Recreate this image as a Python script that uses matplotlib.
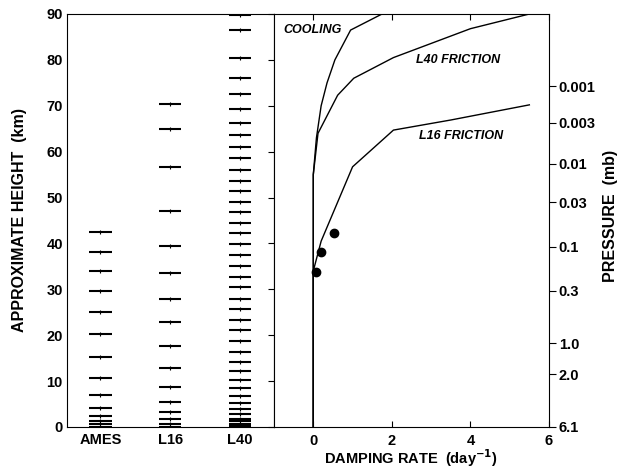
import numpy as np
import matplotlib.pyplot as plt

plt.rcParams['font.family'] = ['Liberation Sans', 'DejaVu Sans']
plt.rcParams['font.weight'] = 'bold'
plt.rcParams['font.size'] = 10.5

# level heights (km) for each model grid
models = ['AMES', 'L16', 'L40']
ames_levels = [42.4, 38.2, 34.0, 29.6, 25.0, 20.2, 15.2, 10.6, 6.9, 4.2, 2.4, 1.2, 0.6, 0.1]
l16_levels = [70.4, 64.9, 56.6, 47.0, 39.4, 33.5, 28.0, 22.9, 17.7, 12.9, 8.7, 5.4,
              3.3, 1.7, 0.65, 0.1]
l40_levels = [89.8, 86.5, 80.5, 76.0, 72.5, 69.3, 66.3, 63.6, 61.1, 58.6, 56.1, 53.7,
              51.4, 49.1, 46.8, 44.4, 42.2, 39.8, 37.5, 35.1, 32.7, 30.4, 28.0, 25.7,
              23.4, 21.1, 18.7, 16.4, 14.2, 12.1, 10.2, 8.4, 6.8, 5.3, 3.9, 2.8, 1.8,
              1.2, 0.6, 0.15]

# damping rate profiles (day^-1 vs km)
cool_rate = [0.0, 0.0, 0.08, 0.2, 0.35, 0.55, 0.95, 1.75]
cool_z = [0.0, 55.0, 63.0, 70.0, 75.0, 80.0, 86.5, 90.0]
l40_rate = [0.0, 0.0, 0.12, 0.62, 1.03, 2.04, 4.0, 5.5]
l40_z = [0.0, 55.0, 64.0, 72.3, 76.0, 80.5, 86.8, 90.0]
l16_rate = [0.0, 0.0, 0.2, 1.0, 2.04, 3.5, 5.5]
l16_z = [0.0, 34.0, 40.5, 56.7, 64.7, 66.9, 70.2]
obs_rate = [0.08, 0.2, 0.52]
obs_z = [33.8, 38.1, 42.3]

# pressure labels on the right axis (mb) and their heights (km)
p_labels = ['0.001', '0.003', '0.01', '0.03', '0.1', '0.3', '1.0', '2.0', '6.1']
p_heights = [74.3, 66.3, 57.4, 49.0, 39.3, 29.7, 18.2, 11.5, 0.0]

W, H = 622, 470
fig = plt.figure(figsize=(W / 100, H / 100), dpi=100)
bot = 1 - 427 / H
hgt = (427 - 14) / H
ax1 = fig.add_axes([67 / W, bot, (274 - 67) / W, hgt])
ax2 = fig.add_axes([274 / W, bot, (549 - 274) / W, hgt])

# left panel: vertical levels
for i, lev in enumerate([ames_levels, l16_levels, l40_levels]):
    x = i + 1
    ax1.hlines(lev, x - 0.16, x + 0.16, color='black', lw=1.5)
    ax1.plot([x] * len(lev), lev, '|', color='black', ms=2.5, mew=0.8)
ax1.set_xlim(0.52, 3.49)
ax1.set_ylim(0, 90)
ax1.set_xticks([1, 2, 3])
ax1.set_xticklabels(models, fontweight='bold')
ax1.set_yticks(np.arange(0, 91, 10))
ax1.tick_params(axis='x', length=0, pad=4)
ax1.tick_params(axis='y', left=False, right=True, direction='in', length=4, pad=3)

# right panel: damping rates
ax2.plot(cool_rate, cool_z, color='black', lw=1.0)
ax2.plot(l40_rate, l40_z, color='black', lw=1.0)
ax2.plot(l16_rate, l16_z, color='black', lw=1.0)
ax2.plot(obs_rate, obs_z, 'o', color='black', ms=6)
ax2.set_xlim(-1, 6)
ax2.set_ylim(0, 90)
ax2.set_xticks([0, 2, 4, 6])
ax2.tick_params(axis='x', top=True, direction='in', length=4, pad=5)
ax2.set_yticks(p_heights)
ax2.set_yticklabels(p_labels)
ax2.tick_params(axis='y', left=False, right=True, labelleft=False, labelright=True,
                direction='out', length=5, pad=2)

lab = dict(fontsize=9, fontweight='bold', fontstyle='italic')
ax2.text(-0.76, 86.5, 'COOLING', va='center', **lab)
ax2.text(2.61, 80.0, 'L40 FRICTION', va='center', **lab)
ax2.text(2.69, 63.4, 'L16 FRICTION', va='center', **lab)

fig.text(20 / W, 1 - 220 / H, 'APPROXIMATE HEIGHT  (km)', rotation=90,
         ha='center', va='center', fontsize=11.5, fontweight='bold')
fig.text(610 / W, 1 - 216 / H, 'PRESSURE  (mb)', rotation=90, ha='center', va='center',
         fontsize=11.5, fontweight='bold')
fig.text(411 / W, 1 - 458 / H, 'DAMPING RATE  (day$^{\\mathbf{-1}}$)', ha='center',
         va='center', fontsize=10.5, fontweight='bold')

fig.savefig('out.png', dpi=100)
